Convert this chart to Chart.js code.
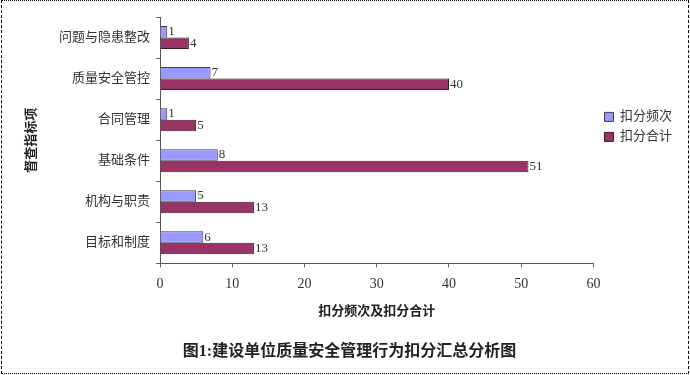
<!DOCTYPE html>
<html>
<head>
<meta charset="utf-8">
<script src="https://cdn.jsdelivr.net/npm/chart.js@4/dist/chart.umd.min.js"></script>
<style>
  html, body { margin: 0; padding: 0; background: #fff; }
  #wrap { position: relative; width: 690px; height: 375px; }
  #frame {
    position: absolute; left: 1px; top: 0; width: 686px; height: 372px;
    border-top: 1px dotted #000; border-bottom: 1px dotted #000;
    border-left: 1px dashed #000; border-right: 1px dashed #000;
    pointer-events: none;
  }
</style>
</head>
<body>
<div id="wrap">
  <canvas id="chart" width="690" height="375"></canvas>
  <div id="frame"></div>
</div>
<script>
// 数据
const categories = ['问题与隐患整改', '质量安全管控', '合同管理', '基础条件', '机构与职责', '目标和制度'];
const freqValues = [1, 7, 1, 8, 5, 6];      // 扣分频次
const totalValues = [4, 40, 5, 51, 13, 13]; // 扣分合计
const xTicks = [0, 10, 20, 30, 40, 50, 60];

const fontFamily = '"Liberation Serif", "Noto Sans CJK SC", serif';

// 在柱子末端写数值
const valueLabels = {
    id: 'valueLabels',
    afterDatasetsDraw(chart) {
        const ctx = chart.ctx;
        ctx.save();
        ctx.font = '13px ' + fontFamily;
        ctx.fillStyle = '#333';
        ctx.textAlign = 'left';
        ctx.textBaseline = 'middle';
        chart.data.datasets.forEach((ds, i) => {
            chart.getDatasetMeta(i).data.forEach((bar, j) => {
                ctx.fillText(ds.data[j], bar.x + 1, bar.y);
            });
        });
        ctx.restore();
    }
};

const ctx = document.getElementById('chart').getContext('2d');
new Chart(ctx, {
    type: 'bar',
    data: {
        labels: categories,
        datasets: [{
            label: '扣分频次',
            data: freqValues,
            backgroundColor: '#9999ff',
            borderColor: '#3a3a5a',
            borderWidth: 1,
            categoryPercentage: 0.56,
            barPercentage: 1
        }, {
            label: '扣分合计',
            data: totalValues,
            backgroundColor: '#993366',
            borderColor: '#3a1a28',
            borderWidth: 1,
            categoryPercentage: 0.56,
            barPercentage: 1
        }]
    },
    options: {
        indexAxis: 'y',
        responsive: false,
        animation: false,
        layout: { padding: { left: 17, right: 8, top: 17, bottom: 6 } },
        plugins: {
            legend: {
                position: 'right',
                fullSize: false,
                align: 'start',
                // 空标题只用来把图例往下推
                title: { display: true, text: '', padding: { top: 72, bottom: 0 } },
                labels: {
                    boxWidth: 9,
                    boxHeight: 9,
                    padding: 7,
                    color: '#333',
                    font: { size: 13, family: fontFamily }
                }
            },
            title: {
                display: true,
                position: 'bottom',
                text: '图1:建设单位质量安全管理行为扣分汇总分析图',
                color: '#222',
                font: { size: 16, weight: 'bold', family: fontFamily },
                padding: { top: 12, bottom: 8 }
            },
            tooltip: { enabled: false }
        },
        scales: {
            x: {
                min: 0,
                max: 60,
                afterBuildTicks: (scale) => { scale.ticks = xTicks.map(v => ({ value: v })); },
                grid: { drawOnChartArea: false, tickLength: 4, color: '#666' },
                border: { color: '#555' },
                ticks: { color: '#333', padding: 9, font: { size: 14, family: fontFamily } },
                title: {
                    display: true,
                    text: '扣分频次及扣分合计',
                    color: '#222',
                    font: { size: 13, weight: 'bold', family: fontFamily },
                    padding: { top: 2, bottom: 10 }
                }
            },
            y: {
                grid: { drawOnChartArea: false, tickLength: 4, color: '#666' },
                border: { color: '#555' },
                ticks: { color: '#333', padding: 6, font: { size: 13, family: fontFamily } },
                title: {
                    display: true,
                    text: '督查指标项',
                    color: '#222',
                    font: { size: 13, weight: 'bold', family: fontFamily },
                    padding: { top: 7, bottom: 11 }
                },
                // 固定左轴宽度，让绘图区从 x=160 开始
                afterFit: (scale) => { scale.width = 143; }
            },
            // 看不见的右侧轴，只在绘图区和图例之间留一点空
            gap: {
                axis: 'y',
                type: 'linear',
                position: 'right',
                grid: { display: false },
                border: { display: false },
                ticks: { display: false },
                afterFit: (scale) => { scale.width = 4; }
            }
        }
    },
    plugins: [valueLabels]
});
</script>
</body>
</html>
